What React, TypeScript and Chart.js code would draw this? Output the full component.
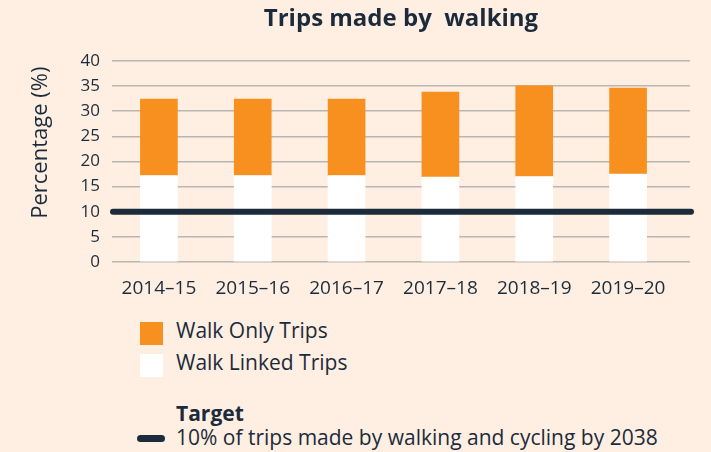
import React, { useEffect, useRef } from "react";
import { Chart, registerables } from "chart.js";

Chart.register(...registerables);

const categories = ["2014–15", "2015–16", "2016–17", "2017–18", "2018–19", "2019–20"];
const walkOnlyTrips = [15.2, 15.2, 15.2, 16.9, 18.0, 17.1];
const walkLinkedTrips = [17.2, 17.2, 17.2, 16.9, 17.0, 17.5];
const targetValue = 10;
const yMin = 0;
const yMax = 40;
const yStep = 5;

const titleText = "Trips made by  walking";
const yAxisTitle = "Percentage (%)";
const legendLabels = ["Walk Only Trips", "Walk Linked Trips"];
const targetTitle = "Target";
const targetLabel = "10% of trips made by walking and cycling by 2038";

const BG = "#FEEFE2";
const ORANGE = "#F7901F";
const NAVY = "#1C2B3B";
const GRID = "#B9B6B2";
const FONT = "'Open Sans', sans-serif";

const targetPlugin = {
  id: "targetLine",
  afterDatasetsDraw(chart: any) {
    const { ctx, chartArea, scales } = chart;
    const y = scales.y.getPixelForValue(targetValue);
    ctx.save();
    ctx.strokeStyle = NAVY;
    ctx.lineWidth = 6;
    ctx.lineCap = "round";
    ctx.beginPath();
    ctx.moveTo(chartArea.left + 1, y);
    ctx.lineTo(chartArea.right + 1, y);
    ctx.stroke();
    ctx.restore();
  },
};

const yTitlePlugin = {
  id: "yTitle",
  afterDraw(chart: any) {
    const { ctx, scales } = chart;
    const ys = scales.y;
    const cy = ys.getPixelForValue(yMax * 0.593);
    ctx.save();
    ctx.translate(41, cy);
    ctx.rotate(-Math.PI / 2);
    ctx.font = `22px ${FONT}`;
    ctx.fillStyle = NAVY;
    ctx.textAlign = "center";
    ctx.textBaseline = "middle";
    ctx.fillText(yAxisTitle, 0, 0);
    ctx.restore();
  },
};

function ChartCanvas() {
  const ref = useRef<HTMLCanvasElement | null>(null);
  useEffect(() => {
    if (!ref.current) return;
    const chart = new Chart(ref.current, {
      type: "bar",
      data: {
        datasets: [
          {
            label: legendLabels[1],
            data: walkLinkedTrips.map((v, i) => ({ x: i, y: v })),
            backgroundColor: "#FFFFFF",
            borderWidth: 0,
            barThickness: 37,
            stack: "s",
          },
          {
            label: legendLabels[0],
            data: walkOnlyTrips.map((v, i) => ({ x: i, y: v })),
            backgroundColor: ORANGE,
            borderWidth: 0,
            barThickness: 37,
            stack: "s",
          },
        ],
      },
      options: {
        animation: false,
        responsive: true,
        maintainAspectRatio: false,
        layout: { padding: { left: 0, right: 21, top: 0, bottom: 0 } },
        plugins: {
          legend: { display: false },
          tooltip: { enabled: false },
          title: {
            display: true,
            text: titleText,
            fullSize: false,
            color: NAVY,
            font: { family: FONT, size: 24, weight: "bold" },
            padding: { top: 5, bottom: 27 },
          },
        },
        scales: {
          x: {
            type: "linear",
            stacked: true,
            offset: false,
            min: -0.5,
            max: categories.length - 0.34,
            grid: { display: false },
            border: { display: false },
            afterBuildTicks: (s: any) => {
              s.ticks = categories.map((_, i) => ({ value: i }));
            },
            afterFit: (s: any) => {
              s.height = 43;
            },
            ticks: {
              autoSkip: false,
              maxRotation: 0,
              padding: 7,
              color: NAVY,
              font: { family: FONT, size: 19 },
              callback: (v: any) => categories[v] ?? "",
            },
          },
          y: {
            stacked: true,
            min: yMin,
            max: yMax,
            grid: { color: GRID, lineWidth: 1.5, drawTicks: false },
            border: { display: false },
            afterFit: (s: any) => {
              s.width = 112;
            },
            ticks: {
              stepSize: yStep,
              padding: 12,
              color: NAVY,
              font: { family: FONT, size: 17 },
            },
          },
        },
      },
      plugins: [targetPlugin, yTitlePlugin],
    } as any);
    return () => chart.destroy();
  }, []);
  return <canvas ref={ref} />;
}

export default function App() {
  const text: React.CSSProperties = {
    position: "absolute",
    left: 176,
    fontFamily: FONT,
    fontSize: 21,
    lineHeight: "20px",
    color: NAVY,
    whiteSpace: "nowrap",
  };
  return (
    <div
      style={{
        position: "fixed",
        left: 0,
        top: 0,
        width: 711,
        height: 452,
        background: BG,
        overflow: "hidden",
      }}
    >
      <div style={{ position: "absolute", left: 0, top: 0, width: 711, height: 305 }}>
        <ChartCanvas />
      </div>
      <div style={{ position: "absolute", left: 140, top: 322, width: 23, height: 23, background: ORANGE }} />
      <div style={{ ...text, top: 320 }}>{legendLabels[0]}</div>
      <div style={{ position: "absolute", left: 140, top: 354, width: 23, height: 23, background: "#FFFFFF" }} />
      <div style={{ ...text, top: 352 }}>{legendLabels[1]}</div>
      <div style={{ ...text, top: 403, fontWeight: "bold" }}>{targetTitle}</div>
      <div
        style={{
          position: "absolute",
          left: 137,
          top: 435,
          width: 28,
          height: 7,
          borderRadius: 3.5,
          background: NAVY,
        }}
      />
      <div style={{ ...text, top: 427 }}>{targetLabel}</div>
    </div>
  );
}
